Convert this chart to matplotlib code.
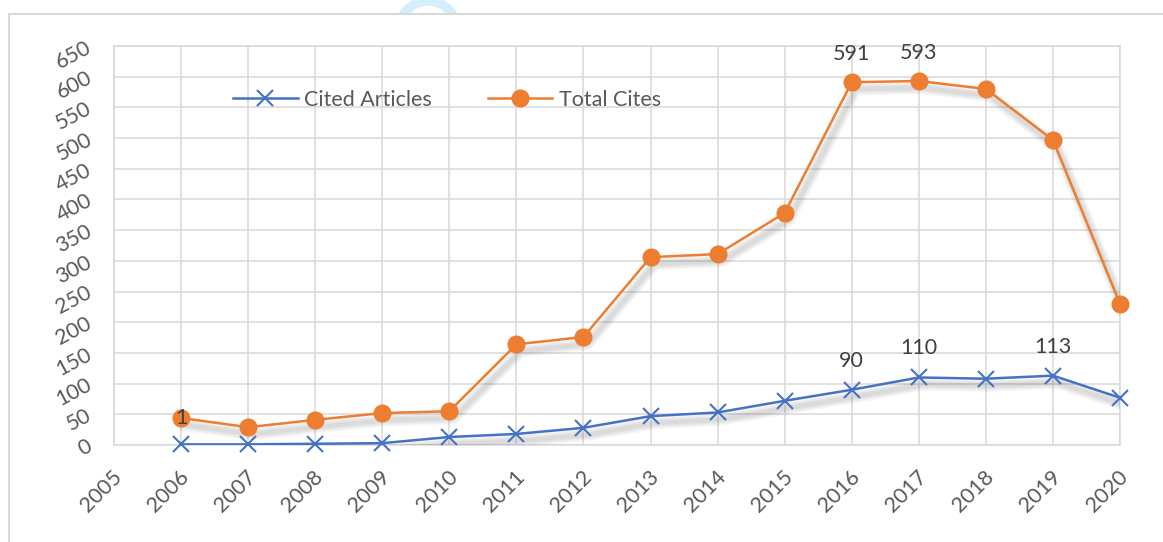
import matplotlib
matplotlib.use("Agg")
import matplotlib.pyplot as plt
import matplotlib.patheffects as pe
from matplotlib.transforms import ScaledTranslation
from matplotlib.patches import Ellipse, Rectangle
from matplotlib.lines import Line2D

years = list(range(2005, 2021))
data_years = list(range(2006, 2021))
cited_articles = [1, 1, 2, 3, 13, 18, 28, 47, 53, 72, 90, 110, 108, 113, 77]
total_cites = [44, 29, 41, 52, 55, 164, 176, 306, 311, 378, 591, 593, 580, 497, 230]
y_ticks = list(range(0, 651, 50))
labels_cited = {2016: "90", 2017: "110", 2019: "113"}
labels_total = {2016: "591", 2017: "593"}
label_on_marker = {2006: "1"}

BLUE = "#4472C4"
ORANGE = "#ED7D31"
GRID = "#D9D9D9"
TXT = "#595959"
LBL = "#404040"
FS = 15.5

plt.rcParams['font.family'] = ['Lato', 'DejaVu Sans']

W, H = 1163, 542
fig = plt.figure(figsize=(W / 100, H / 100), dpi=100)
fig.patch.set_facecolor("white")

def fx(x):
    return x / W

def fy(y):
    return 1 - y / H

# watermark ring at top (clipped above frame)
ell = Ellipse((fx(428), fy(30)), width=58 / W, height=58 / H, transform=fig.transFigure,
              fill=False, edgecolor="#D4EFFB", linewidth=7, zorder=0)
clip = Rectangle((0, fy(14)), 1, 1, transform=fig.transFigure, visible=False)
fig.patches.append(clip)
ell.set_clip_path(clip)
fig.patches.append(ell)

# outer frame (left and top edges)
fig.add_artist(Line2D([fx(9), fx(9)], [0, fy(14)], transform=fig.transFigure, color=GRID, lw=1.5))
fig.add_artist(Line2D([fx(9), 1], [fy(14), fy(14)], transform=fig.transFigure, color=GRID, lw=1.5))

left, right, top, bottom = 114, 1120, 46, 445
ax = fig.add_axes([fx(left), fy(bottom), (right - left) / W, (bottom - top) / H])
ax.set_xlim(years[0], years[-1])
ax.set_ylim(y_ticks[0], y_ticks[-1])
ax.set_xticks(years)
ax.set_yticks(y_ticks)
ax.grid(True, color=GRID, linewidth=1.1)
ax.set_axisbelow(True)
for s in ax.spines.values():
    s.set_color(GRID)
    s.set_linewidth(1.1)
ax.tick_params(length=0, colors=TXT, labelsize=FS)

ax.set_yticklabels([str(v) for v in y_ticks], rotation=28, ha="right", va="center",
                   rotation_mode="anchor")
ax.tick_params(axis="y", pad=17)
ax.set_xticklabels([str(y) for y in years], rotation=45, ha="right", va="center",
                   rotation_mode="anchor")
ax.tick_params(axis="x", pad=21)
for lab in ax.get_xticklabels():
    lab.set_transform(lab.get_transform() + ScaledTranslation(5 / 100, 0, fig.dpi_scale_trans))

# soft shadow: several faint layers
shadow = [pe.SimpleLineShadow(offset=(3, -5), shadow_color="k", alpha=0.035, linewidth=w)
          for w in (9, 7, 5, 3)] + [pe.Normal()]

ax.plot(data_years, cited_articles, color=BLUE, lw=1.8, path_effects=shadow, zorder=3)
ax.plot(data_years, total_cites, color=ORANGE, lw=1.8, path_effects=shadow, zorder=3)
ax.plot(data_years, cited_articles, linestyle="none", color=BLUE, marker="x", markersize=12,
        markeredgewidth=1.5, zorder=4, clip_on=False)
ax.plot(data_years, total_cites, linestyle="none", color=ORANGE, marker="o", markersize=12,
        zorder=4, clip_on=False)

for yr, t in labels_cited.items():
    v = cited_articles[data_years.index(yr)]
    ax.annotate(t, (yr, v), xytext=(0, 29), textcoords="offset pixels", ha="center", va="center",
                fontsize=FS, color=LBL)
for yr, t in labels_total.items():
    v = total_cites[data_years.index(yr)]
    ax.annotate(t, (yr, v), xytext=(0, 28), textcoords="offset pixels", ha="center", va="center",
                fontsize=FS, color=LBL)
for yr, t in label_on_marker.items():
    v = total_cites[data_years.index(yr)]
    ax.annotate(t, (yr, v), xytext=(0, 0), textcoords="offset pixels", ha="center", va="center",
                fontsize=FS, color=LBL, zorder=5)

h1 = Line2D([], [], color=BLUE, lw=1.8, marker="x", markersize=12, markeredgewidth=1.5)
h2 = Line2D([], [], color=ORANGE, lw=1.8, marker="o", markersize=12)
leg = fig.legend([h1, h2], ["Cited Articles", "Total Cites"], loc="center left",
                 bbox_to_anchor=(fx(233), fy(100)), ncol=2, frameon=False, fontsize=FS,
                 handlelength=3.0, handletextpad=0.3, columnspacing=2.6, borderpad=0,
                 borderaxespad=0, labelcolor=TXT)

fig.savefig("out.png", dpi=100, facecolor="white")
